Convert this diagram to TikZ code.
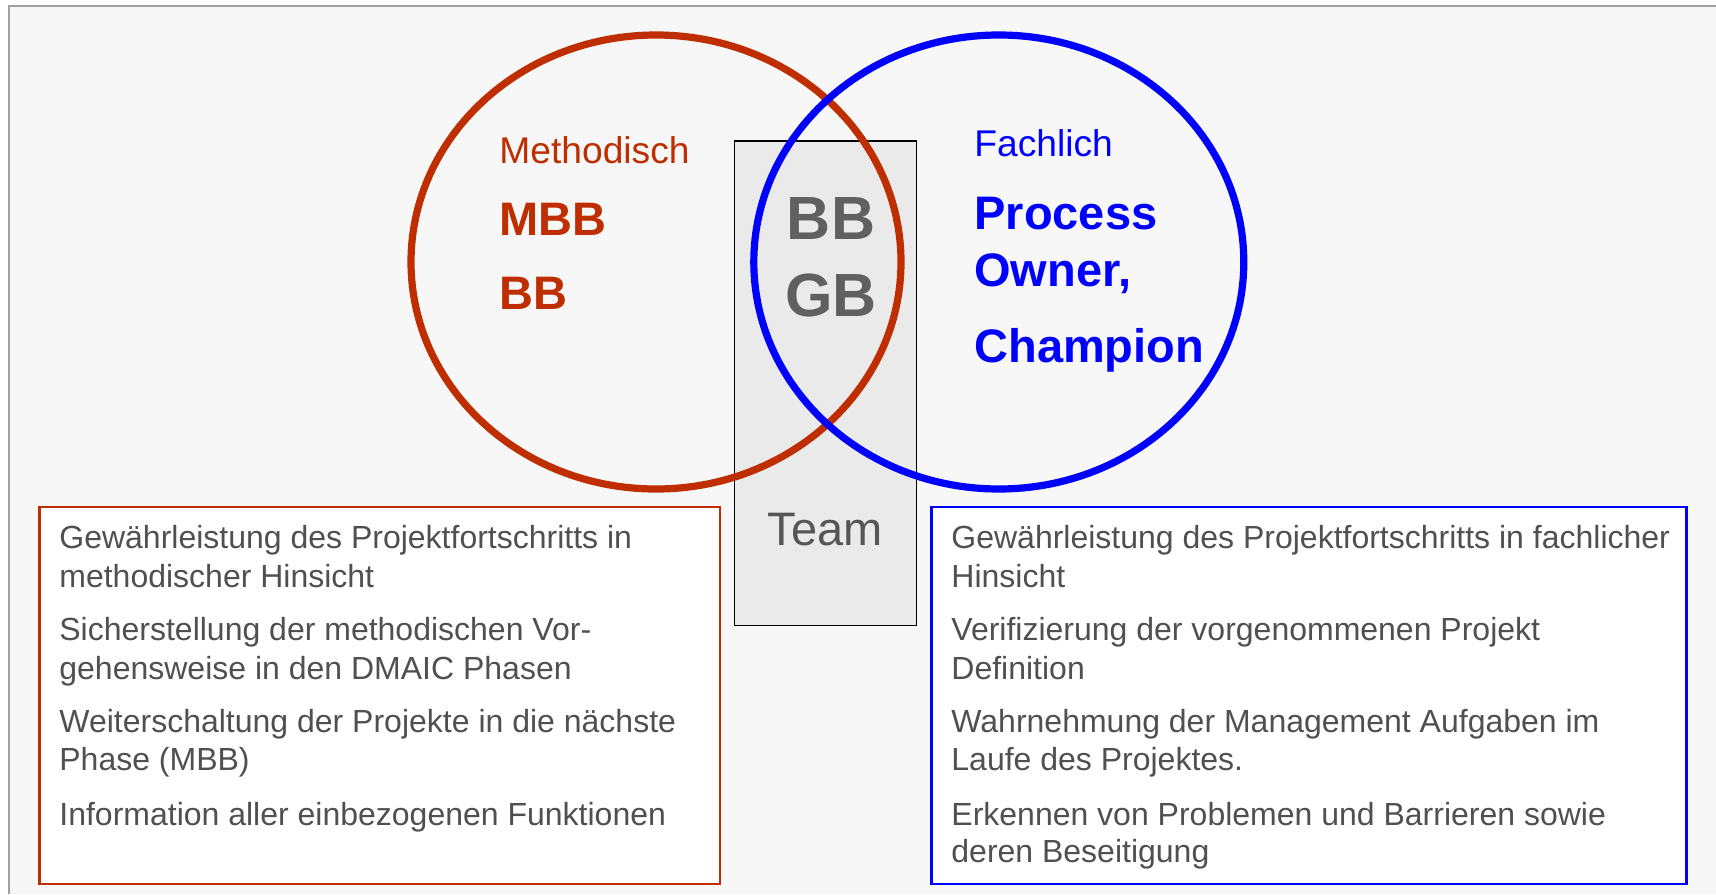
\documentclass[tikz,border=0pt]{standalone}
\usepackage{fontspec}
\setmainfont{Liberation Sans}
\definecolor{bgc}{HTML}{F7F7F7}
\definecolor{framec}{HTML}{A0A0A0}
\definecolor{redc}{RGB}{190,46,0}
\definecolor{bluec}{RGB}{0,0,255}
\definecolor{greyfill}{HTML}{EAEAEA}
\definecolor{greytxt}{HTML}{606060}
\definecolor{bodytxt}{HTML}{505050}
\begin{document}
\begin{tikzpicture}[x=0.5pt,y=-0.5pt,
  lbl/.style={inner sep=0pt,anchor=base west},
  body/.style={lbl,text=bodytxt,font=\fontsize{16pt}{19.75pt}\selectfont},
  head/.style={lbl,font=\fontsize{18.6pt}{22pt}\selectfont},
  big/.style={lbl,font=\fontsize{23.5pt}{28pt}\selectfont\bfseries},
  core/.style={inner sep=0pt,anchor=base,text=greytxt,font=\fontsize{30.5pt}{36pt}\selectfont\bfseries}]
\useasboundingbox (0,0) rectangle (1716,894);
\fill[white] (0,0) rectangle (1716,894);
\fill[bgc] (9,5.5) rectangle (1716,894);
\draw[framec,line width=1pt] (9,894) -- (9,5.5) -- (1716,5.5);
% team rectangle
\draw[fill=greyfill,draw=black,line width=0.75pt] (734.7,141) rectangle (916.3,625.3);
% circles
\draw[redc,line width=3.6pt] (656,262) ellipse [x radius=122.5pt, y radius=113.5pt];
\draw[bluec,line width=3.6pt] (998.8,262) ellipse [x radius=122.5pt, y radius=113.5pt];
% boxes
\draw[redc,fill=white,line width=1.2pt] (39.5,506.7) rectangle (720,884);
\draw[bluec,fill=white,line width=1.2pt] (931.5,506.7) rectangle (1686.5,884);
% circle labels
\node[head,text=redc] (meth) at (499,163.5) {Methodisch};
\node[big,text=redc] (mbb) at (499,235) {MBB};
\node[big,text=redc] (bbl) at (499,309.3) {BB};
\node[head,text=bluec] (fach) at (974,156.7) {Fachlich};
\node[big,text=bluec] (proc) at (974,229) {Process};
\node[big,text=bluec] (own) at (974,286.7) {Owner,};
\node[big,text=bluec] (champ) at (974,362.3) {Champion};
\node[core] (bbc) at (831,239) {BB};
\node[core] (gbc) at (831,316.7) {GB};
\node[inner sep=0pt,anchor=base,text=greytxt!90!black,font=\fontsize{23.5pt}{28pt}\selectfont] (team) at (825,545.7) {Team};
% left box text
\node[body] (l1) at (59,548.5) {Gewährleistung des Projektfortschritts in};
\node[body] (l2) at (59,587.5) {methodischer Hinsicht};
\node[body] (l3) at (59,640) {Sicherstellung der methodischen Vor-};
\node[body] (l4) at (59,679) {gehensweise in den DMAIC Phasen};
\node[body] (l5) at (59,732.5) {Weiterschaltung der Projekte in die nächste};
\node[body] (l6) at (59,770) {Phase (MBB)};
\node[body] (l7) at (59,825) {Information aller einbezogenen Funktionen};
% right box text
\node[body] (r1) at (951,548.5) {Gewährleistung des Projektfortschritts in fachlicher};
\node[body] (r2) at (951,587.5) {Hinsicht};
\node[body] (r3) at (951,640) {Verifizierung der vorgenommenen Projekt};
\node[body] (r4) at (951,679) {Definition};
\node[body] (r5) at (951,732.5) {Wahrnehmung der Management Aufgaben im};
\node[body] (r6) at (951,770) {Laufe des Projektes.};
\node[body] (r7) at (951,825) {Erkennen von Problemen und Barrieren sowie};
\node[body] (r8) at (951,862.5) {deren Beseitigung};
\end{tikzpicture}
\end{document}
